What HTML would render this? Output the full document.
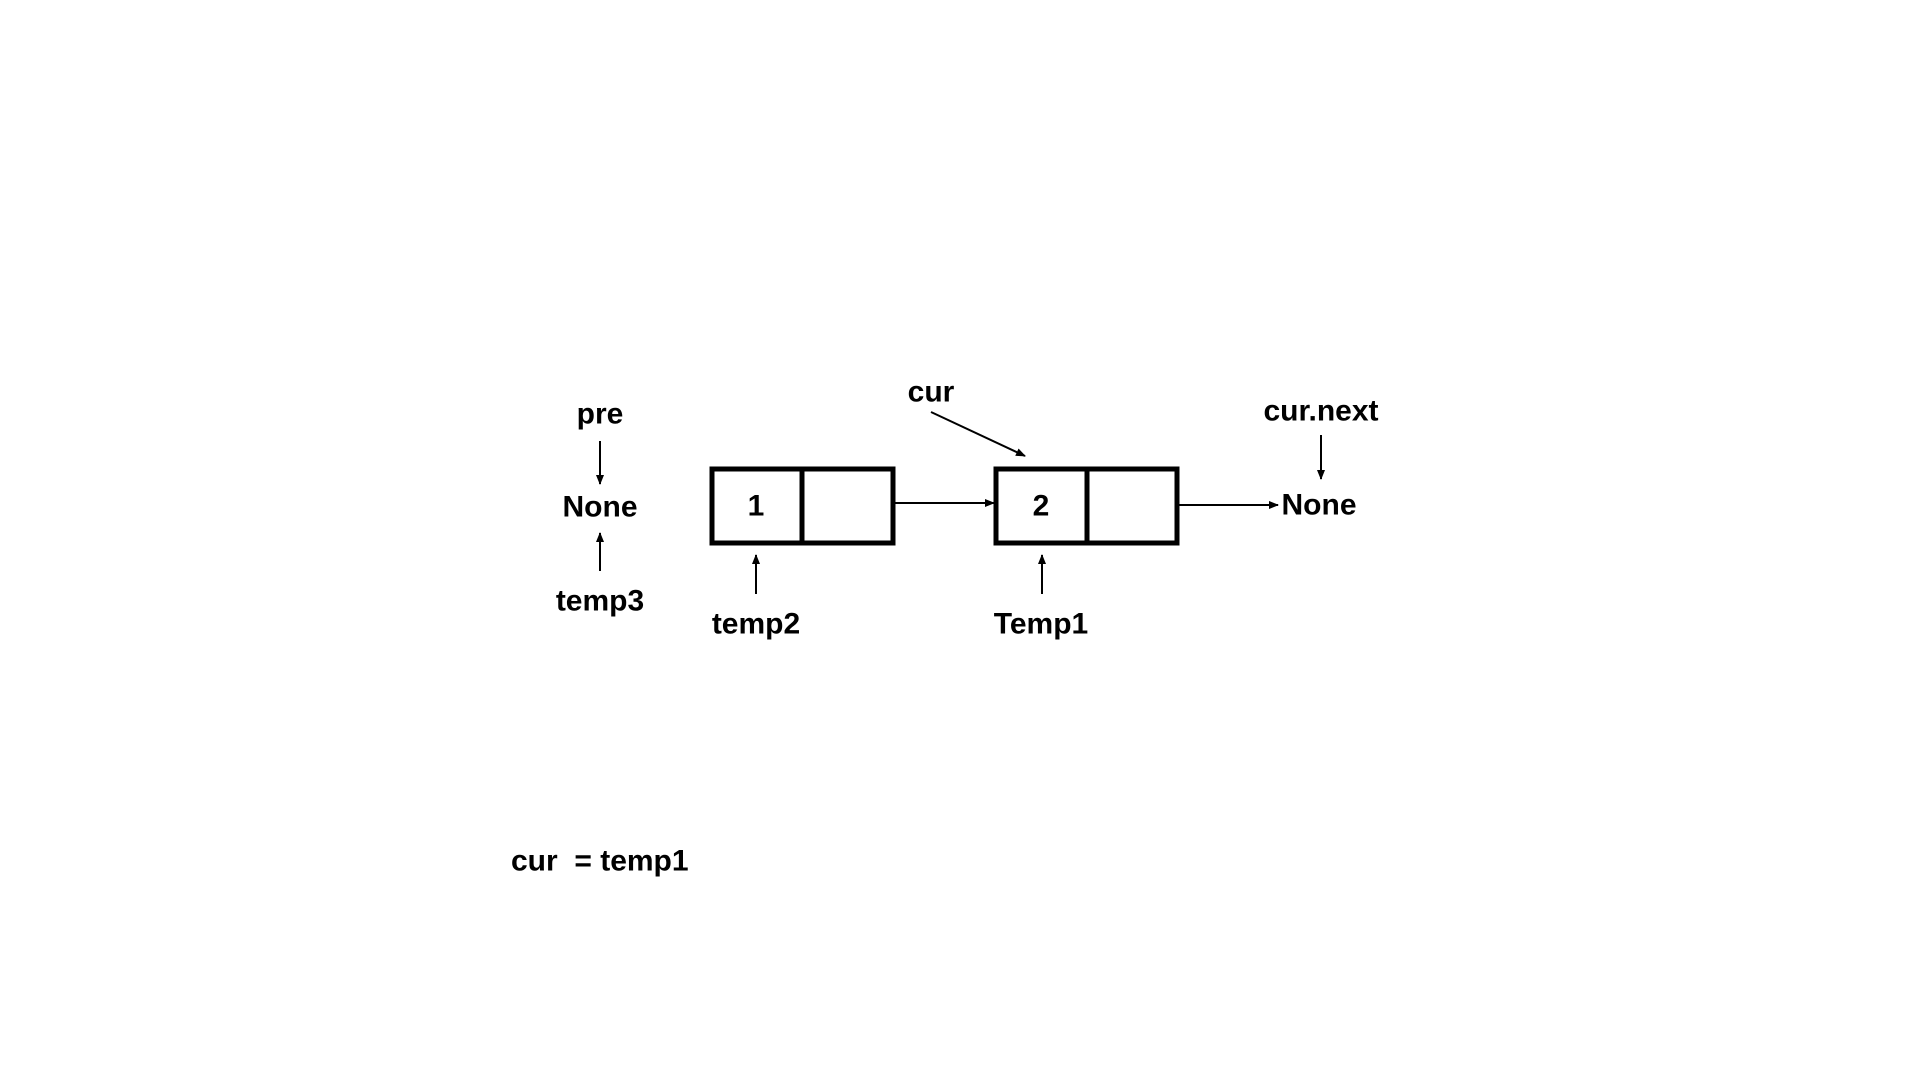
<!DOCTYPE html>
<html><head><style>html,body{margin:0;padding:0;background:#fff;}svg{display:block}</style></head>
<body>
<svg width="1920" height="1080" viewBox="0 0 1920 1080" xmlns="http://www.w3.org/2000/svg">
<defs><marker id="a" markerWidth="10" markerHeight="8" refX="9" refY="4" orient="auto" markerUnits="userSpaceOnUse"><path d="M0,0 L10,4 L0,8 z" fill="#000"/></marker></defs>
<g font-family="Liberation Sans, sans-serif" font-weight="bold" font-size="30" text-anchor="middle" dominant-baseline="central" fill="#000">
<text x="600" y="414">pre</text>
<text x="600" y="507">None</text>
<text x="600" y="601">temp3</text>
<text x="756" y="506">1</text>
<text x="1041" y="506">2</text>
<text x="1319" y="505">None</text>
<text x="1321" y="411">cur.next</text>
<text x="931" y="392">cur</text>
<text x="756" y="624">temp2</text>
<text x="1041" y="624">Temp1</text>
<text x="511" y="861" text-anchor="start" xml:space="preserve">cur  = temp1</text>
</g>
<g stroke="#000" fill="none">
<rect x="712" y="469" width="181" height="74" stroke-width="5"/>
<line x1="802" y1="469" x2="802" y2="543" stroke-width="5"/>
<rect x="996" y="469" width="181" height="74" stroke-width="5"/>
<line x1="1087" y1="469" x2="1087" y2="543" stroke-width="5"/>
<g stroke-width="2" marker-end="url(#a)">
<line x1="600" y1="441" x2="600" y2="484"/>
<line x1="600" y1="571" x2="600" y2="533"/>
<line x1="895" y1="503" x2="994" y2="503"/>
<line x1="1179" y1="505" x2="1278" y2="505"/>
<line x1="1321" y1="435" x2="1321" y2="479"/>
<line x1="931" y1="412" x2="1025" y2="456"/>
<line x1="756" y1="594" x2="756" y2="555"/>
<line x1="1042" y1="594" x2="1042" y2="555"/>
</g>
</g>
</svg>
</body></html>
